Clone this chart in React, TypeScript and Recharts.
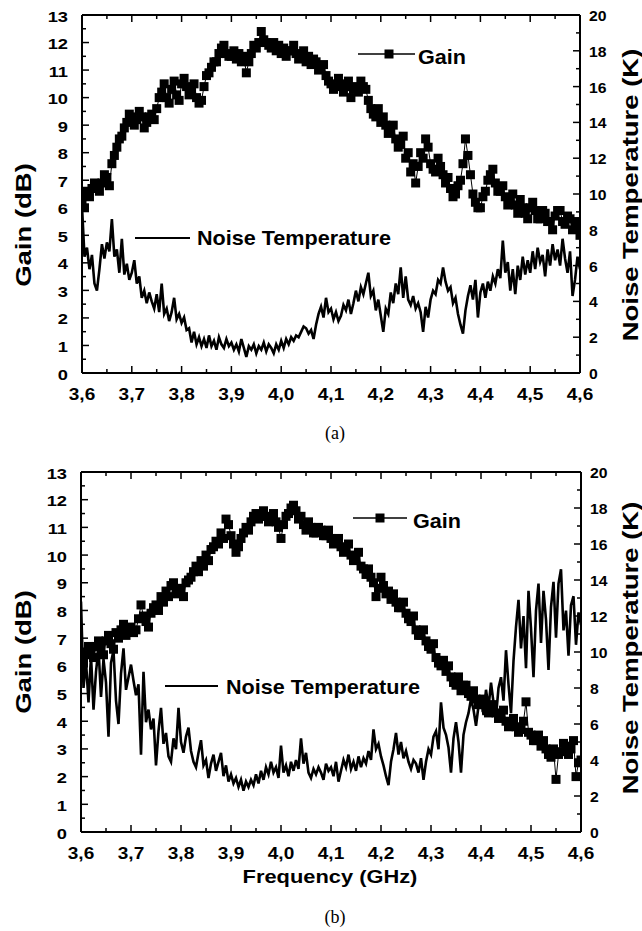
import React from 'react';
import { ComposedChart, Line, XAxis, YAxis, Customized } from 'recharts';

const FONT = '"Liberation Sans", Arial, Helvetica, sans-serif';
const SERIF = '"Liberation Serif", "Times New Roman", serif';

const FREQ_START = 3.6;
const GAIN_STEP = 0.005;
const NOISE_STEP = 0.005;

// Frequency (GHz) tick positions
const FREQ_MAJOR_TICKS = [3.6, 3.7, 3.8, 3.9, 4.0, 4.1, 4.2, 4.3, 4.4, 4.5, 4.6];
const FREQ_MINOR_TICKS = [3.65, 3.75, 3.85, 3.95, 4.05, 4.15, 4.25, 4.35, 4.45, 4.55];
// Gain (dB) ticks
const GAIN_MAJOR_TICKS = [0, 1, 2, 3, 4, 5, 6, 7, 8, 9, 10, 11, 12, 13];
const GAIN_MINOR_TICKS = [0.5, 1.5, 2.5, 3.5, 4.5, 5.5, 6.5, 7.5, 8.5, 9.5, 10.5, 11.5, 12.5];
// Noise temperature (K) ticks
const TEMP_MAJOR_TICKS = [0, 2, 4, 6, 8, 10, 12, 14, 16, 18, 20];
const TEMP_MINOR_TICKS = [1, 3, 5, 7, 9, 11, 13, 15, 17, 19];

// (a) Gain in dB, 3.600 .. 4.600 GHz every 0.005 GHz
const gainA = [
  6.3, 6.0, 6.6, 6.4, 6.7, 6.9, 6.8, 6.6, 6.9, 7.2,
  7.1, 6.8, 7.6, 7.9, 8.2, 8.5, 8.6, 8.9, 9.1, 9.4,
  9.3, 9.0, 9.2, 9.5, 9.3, 8.9, 9.1, 9.3, 9.4, 9.2,
  9.6, 10.0, 10.2, 10.5, 10.0, 9.8, 10.3, 10.6, 10.1, 9.9,
  10.5, 10.7, 10.4, 10.1, 10.2, 10.5, 10.0, 9.8, 9.9, 10.4,
  10.8, 10.9, 11.1, 11.3, 11.3, 11.6, 11.8, 11.9, 11.6, 11.5,
  11.5, 11.7, 11.4, 11.6, 11.3, 11.5, 10.9, 11.3, 11.6, 11.9,
  11.8, 12.0, 12.4, 12.1, 12.0, 11.9, 11.8, 12.0, 11.7, 11.9,
  11.6, 11.8, 11.5, 11.7, 11.7, 11.9, 11.6, 11.4, 11.5, 11.7,
  11.3, 11.5, 11.2, 11.4, 11.3, 11.0, 11.1, 11.2, 10.8, 10.6,
  10.5, 10.3, 10.4, 10.7, 10.5, 10.2, 10.4, 10.6, 10.0, 10.3,
  10.4, 10.2, 10.6, 10.4, 10.3, 9.9, 9.6, 9.4, 9.3, 9.6,
  9.1, 9.3, 9.0, 8.7, 8.8, 9.0, 8.5, 8.2, 8.3, 8.6,
  7.8, 8.0, 7.3, 7.6, 6.9, 7.5, 8.0, 7.8, 8.5, 8.2,
  7.6, 7.4, 7.3, 7.8, 7.5, 7.2, 6.9, 7.1, 6.7, 6.4,
  6.5, 6.8, 7.0, 7.6, 8.5, 7.9, 7.2, 6.5, 6.2, 6.0,
  6.0, 6.4, 6.6, 7.0, 7.2, 7.4, 6.9, 6.6, 6.6, 6.8,
  6.4, 6.1, 6.2, 6.5, 6.1, 5.8, 6.3, 6.0, 5.8, 5.6,
  6.0, 6.2, 5.9, 5.6, 5.6, 5.9, 5.8, 5.5, 5.5, 5.2,
  5.7, 5.9, 5.9, 5.5, 5.4, 5.7, 5.6, 5.2, 5.3, 5.5,
  5.0,
];

// (a) Noise temperature in K, 3.600 .. 4.600 GHz every 0.005 GHz
const noiseA = [
  9.3, 6.5, 7.0, 5.8, 6.6, 5.0, 4.6, 5.8, 7.2, 6.4,
  7.3, 6.8, 8.6, 6.5, 6.9, 5.6, 7.5, 5.5, 6.1, 5.2,
  5.6, 6.3, 5.0, 5.4, 4.2, 4.6, 3.9, 4.5, 4.0, 3.6,
  4.4, 3.4, 5.0, 3.3, 3.6, 2.9, 3.4, 4.2, 3.0, 3.3,
  2.8, 3.1, 2.4, 2.5, 1.7, 2.3, 1.6, 2.0, 1.5, 1.9,
  1.4, 2.1, 1.5, 1.8, 1.3, 2.0, 1.6, 1.4, 1.9, 1.5,
  1.7, 1.3, 1.6, 1.2, 1.9, 1.4, 0.9, 1.5, 1.3, 1.6,
  1.1, 1.5, 1.3, 1.7, 1.2, 1.6, 1.4, 1.1, 1.6, 1.3,
  1.8, 1.4, 1.9, 1.6, 2.0, 1.8, 2.1, 2.0, 2.3, 2.6,
  2.5, 2.2, 2.4, 1.9, 2.7, 3.3, 3.7, 3.1, 4.2, 3.4,
  3.6, 3.0, 3.4, 2.9, 3.2, 3.8, 3.5, 4.1, 3.3, 3.9,
  4.6, 4.0, 4.8, 4.4, 5.0, 5.6, 4.3, 4.6, 3.5, 4.1,
  3.2, 2.3, 3.6, 3.3, 4.5, 3.9, 5.0, 4.4, 5.9, 4.2,
  5.4, 4.1, 3.8, 4.3, 3.6, 3.9, 3.4, 2.3, 3.7, 3.1,
  4.1, 4.6, 4.4, 5.2, 5.0, 5.9, 5.1, 4.6, 4.8, 3.9,
  4.2, 3.3, 2.7, 2.2, 3.5, 4.3, 4.9, 4.1, 5.2, 3.1,
  4.5, 5.0, 4.2, 5.1, 4.6, 5.4, 5.0, 5.8, 5.3, 7.4,
  5.6, 6.2, 4.6, 5.8, 4.4, 6.0, 5.2, 6.5, 5.5, 6.3,
  5.6, 6.8, 5.8, 7.0, 6.2, 6.6, 5.4, 6.9, 6.0, 7.2,
  6.3, 6.9, 6.0, 7.5, 6.4, 5.6, 6.8, 4.3, 5.2, 6.5,
  5.8,
];

// (b) Gain in dB, 3.600 .. 4.600 GHz every 0.005 GHz
const gainB = [
  6.5, 6.1, 6.4, 6.7, 6.5, 6.3, 6.7, 6.9, 6.6, 6.4,
  6.9, 7.1, 6.8, 6.6, 7.2, 7.0, 7.3, 7.5, 7.1, 7.3,
  7.4, 7.2, 7.3, 7.7, 8.2, 7.8, 7.6, 7.4, 7.9, 8.1,
  8.2, 8.0, 8.5, 8.3, 8.7, 8.5, 8.9, 9.0, 8.6, 8.8,
  8.7, 8.5, 9.0, 9.1, 9.2, 9.4, 9.6, 9.4, 9.8, 9.6,
  10.0, 9.8, 10.2, 10.3, 10.5, 10.4, 10.8, 10.6, 11.3, 11.1,
  10.7, 10.4, 10.1, 10.3, 10.6, 10.8, 11.0, 10.9, 11.2, 11.4,
  11.5, 11.3, 11.4, 11.6, 11.4, 11.2, 11.3, 11.5, 11.2, 11.0,
  10.6, 11.1, 11.4, 11.5, 11.7, 11.8, 11.6, 11.3, 11.4, 11.1,
  10.9, 11.2, 11.0, 10.8, 10.8, 11.0, 10.9, 10.7, 10.7, 10.9,
  10.6, 10.4, 10.5, 10.6, 10.3, 10.1, 10.2, 10.4, 10.0, 9.8,
  9.9, 10.1, 9.6, 9.5, 9.3, 9.5, 9.2, 9.0, 8.5, 8.8,
  9.2, 8.9, 8.6, 8.7, 8.4, 8.6, 8.3, 8.1, 8.1, 8.3,
  7.9, 7.7, 7.6, 7.8, 7.3, 7.1, 7.1, 7.3, 6.9, 6.7,
  6.6, 6.8, 6.3, 6.1, 6.0, 6.2, 5.8, 6.0, 5.6, 5.4,
  5.3, 5.6, 5.1, 5.3, 5.3, 5.0, 4.9, 5.1, 4.8, 4.6,
  4.6, 4.8, 4.5, 4.3, 4.4, 4.6, 4.3, 4.1, 4.2, 4.4,
  4.0, 3.8, 3.9, 4.1, 3.8, 3.6, 3.7, 4.0, 4.7, 3.6,
  3.5, 3.3, 3.3, 3.5, 3.1, 3.3, 3.0, 2.8, 2.7, 3.0,
  1.9, 2.8, 2.9, 3.2, 3.1, 2.8, 3.0, 3.3, 2.0, 2.5,
  2.6,
];

// (b) Noise temperature in K, 3.600 .. 4.600 GHz every 0.005 GHz
const noiseB = [
  12.8, 8.0, 9.5, 7.2, 9.8, 6.8, 8.9, 10.2, 7.5, 9.6,
  8.3, 5.3, 9.4, 10.1, 7.3, 6.0, 8.8, 10.2, 7.9, 8.6,
  9.3, 8.4, 7.6, 8.2, 4.3, 8.9, 6.1, 6.8, 5.7, 6.3,
  3.7, 5.6, 6.9, 4.9, 5.5, 4.2, 3.9, 5.2, 4.6, 6.9,
  5.0, 4.4, 5.3, 5.8, 4.5, 3.9, 3.6, 4.4, 5.1, 3.7,
  4.0, 3.0, 3.8, 4.3, 3.4, 3.9, 4.4, 3.1, 3.7, 2.8,
  3.2, 2.7, 3.0, 2.5, 2.9, 2.3, 2.8, 2.5, 2.9, 2.6,
  3.2, 2.7, 3.4, 2.9, 3.6, 3.2, 3.9, 3.3, 3.6, 3.0,
  4.8, 3.3, 3.7, 3.1, 3.9, 3.4, 4.0, 3.5, 5.2, 3.8,
  4.4, 3.3, 3.0, 3.5, 3.2, 3.6, 3.3, 2.9, 3.8, 3.4,
  3.6, 3.1, 3.9, 2.8, 3.4, 4.0, 3.6, 4.3, 3.5, 3.9,
  3.4, 4.2, 3.6, 4.1, 3.8, 4.5, 4.0, 5.7, 4.6, 4.9,
  4.2, 3.7, 3.1, 2.6, 3.9, 4.6, 5.5, 4.3, 5.0, 4.1,
  4.5, 3.9, 3.5, 4.0, 3.8, 3.3, 4.1, 2.9, 3.9, 4.6,
  4.3, 5.3, 5.6, 4.6, 7.2, 5.8, 5.4, 4.7, 3.3, 5.2,
  6.1, 5.0, 3.3, 5.4, 6.1, 6.6, 7.4, 6.8, 5.9, 7.0,
  7.6, 6.5, 7.9, 6.9, 8.3, 7.2, 6.4, 8.0, 8.6, 7.3,
  10.1, 8.2, 6.6, 9.5, 11.4, 12.9, 10.2, 12.0, 9.1, 13.4,
  11.3, 8.6, 12.3, 13.8, 10.5, 13.4, 11.8, 9.0, 12.5, 13.9,
  10.8, 13.8, 14.6, 11.2, 12.3, 9.8, 12.6, 13.1, 10.4, 12.2,
  11.5,
];

const buildSeries = (values: number[], step: number, key: string) =>
  values.map((v, i) => ({ freq: Math.round((FREQ_START + i * step) * 1000) / 1000, [key]: v }));

const gainSeriesA = buildSeries(gainA, GAIN_STEP, 'gain');
const noiseSeriesA = buildSeries(noiseA, NOISE_STEP, 'noise');
const gainSeriesB = buildSeries(gainB, GAIN_STEP, 'gain');
const noiseSeriesB = buildSeries(noiseB, NOISE_STEP, 'noise');

const sortNum = (a: number[], b: number[]) => [...a, ...b].sort((p, q) => p - q);
const FREQ_TICKS = sortNum(FREQ_MAJOR_TICKS, FREQ_MINOR_TICKS);
const GAIN_TICKS = sortNum(GAIN_MAJOR_TICKS, GAIN_MINOR_TICKS);
const TEMP_TICKS = sortNum(TEMP_MAJOR_TICKS, TEMP_MINOR_TICKS);

const isIn = (arr: number[], v: number) => arr.some((a) => Math.abs(a - v) < 1e-6);

const TICK_W = 1.5;
const MAJOR_LEN = 7;
const MINOR_LEN = 4;

const BottomTick = (props: any) => {
  const { x, y, payload } = props;
  const v = payload.value as number;
  const major = isIn(FREQ_MAJOR_TICKS, v);
  return (
    <g>
      <line x1={x} x2={x} y1={y} y2={y - (major ? MAJOR_LEN : MINOR_LEN)} stroke="#000" strokeWidth={TICK_W} />
      {major && (
        <text
          transform={`translate(${x},${y + 27}) scale(1.12,1)`}
          textAnchor="middle"
          fontFamily={FONT}
          fontWeight="bold"
          fontSize={17}
          fill="#000"
        >
          {v.toFixed(1).replace('.', ',')}
        </text>
      )}
    </g>
  );
};

const TopTick = (props: any) => {
  const { x, y, payload } = props;
  const v = payload.value as number;
  const major = isIn(FREQ_MAJOR_TICKS, v);
  return <line x1={x} x2={x} y1={y} y2={y + (major ? MAJOR_LEN : MINOR_LEN)} stroke="#000" strokeWidth={TICK_W} />;
};

const LeftTick = (props: any) => {
  const { x, y, payload } = props;
  const v = payload.value as number;
  const major = isIn(GAIN_MAJOR_TICKS, v);
  return (
    <g>
      <line x1={x} x2={x + (major ? MAJOR_LEN : MINOR_LEN)} y1={y} y2={y} stroke="#000" strokeWidth={TICK_W} />
      {major && (
        <text
          transform={`translate(${x - 14},${y + 6.5}) scale(1.22,1)`}
          textAnchor="end"
          fontFamily={FONT}
          fontWeight="bold"
          fontSize={15}
          fill="#000"
        >
          {String(v)}
        </text>
      )}
    </g>
  );
};

const RightTick = (props: any) => {
  const { x, y, payload } = props;
  const v = payload.value as number;
  const major = isIn(TEMP_MAJOR_TICKS, v);
  return (
    <g>
      <line x1={x} x2={x - (major ? MAJOR_LEN : MINOR_LEN)} y1={y} y2={y} stroke="#000" strokeWidth={TICK_W} />
      {major && (
        <text
          transform={`translate(${x + 9},${y + 6}) scale(1.05,1)`}
          textAnchor="start"
          fontFamily={FONT}
          fontWeight="bold"
          fontSize={15}
          fill="#000"
        >
          {String(v)}
        </text>
      )}
    </g>
  );
};

const renderSquare = (p: any) => {
  if (p.cx == null || p.cy == null) return <g key={`e-${p.index}`} />;
  return <rect key={`sq-${p.index}`} x={p.cx - 4.5} y={p.cy - 4.5} width={9} height={9} fill="#000" />;
};

type Deco = {
  leftTitleY: number;
  rightTitleY: number;
  gainLeg: { x1: number; x2: number; y: number; sq: number; tx: number; ty: number };
  noiseLeg: { x1: number; x2: number; y: number; tx: number; ty: number };
  caption: string;
  captionY: number;
  xTitleY?: number;
};

const Decorations = ({ d }: { d: Deco }) => (
  <g>
    <text
      transform={`translate(31,${d.leftTitleY}) rotate(-90) scale(1.25,1)`}
      textAnchor="middle"
      fontFamily={FONT}
      fontWeight="bold"
      fontSize={22}
      fill="#000"
    >
      Gain (dB)
    </text>
    <text
      transform={`translate(638,${d.rightTitleY}) rotate(-90) scale(1.25,1)`}
      textAnchor="middle"
      fontFamily={FONT}
      fontWeight="bold"
      fontSize={22}
      fill="#000"
    >
      Noise Temperature (K)
    </text>
    <line x1={d.gainLeg.x1} x2={d.gainLeg.x2} y1={d.gainLeg.y} y2={d.gainLeg.y} stroke="#000" strokeWidth={1.6} />
    <rect x={d.gainLeg.sq - 4.5} y={d.gainLeg.y - 4.5} width={9} height={9} fill="#000" />
    <text
      transform={`translate(${d.gainLeg.tx},${d.gainLeg.ty}) scale(1.08,1)`}
      fontFamily={FONT}
      fontWeight="bold"
      fontSize={20}
      fill="#000"
    >
      Gain
    </text>
    <line x1={d.noiseLeg.x1} x2={d.noiseLeg.x2} y1={d.noiseLeg.y} y2={d.noiseLeg.y} stroke="#000" strokeWidth={2} />
    <text
      transform={`translate(${d.noiseLeg.tx},${d.noiseLeg.ty}) scale(1.08,1)`}
      fontFamily={FONT}
      fontWeight="bold"
      fontSize={20}
      fill="#000"
    >
      Noise Temperature
    </text>
    {d.xTitleY != null && (
      <text
        transform={`translate(330,${d.xTitleY}) scale(1.15,1)`}
        textAnchor="middle"
        fontFamily={FONT}
        fontWeight="bold"
        fontSize={19}
        fill="#000"
      >
        Frequency (GHz)
      </text>
    )}
    <text x={335} y={d.captionY} textAnchor="middle" fontFamily={SERIF} fontSize={18} fill="#000">
      {d.caption}
    </text>
  </g>
);

const AXIS_LINE = { stroke: '#000', strokeWidth: 2 };

type PanelProps = {
  height: number;
  margin: { top: number; right: number; bottom: number; left: number };
  leftW: number;
  rightW: number;
  gainData: any[];
  noiseData: any[];
  deco: Deco;
};

const Panel = ({ height, margin, leftW, rightW, gainData, noiseData, deco }: PanelProps) => (
  <ComposedChart width={642} height={height} margin={margin}>
    <XAxis
      xAxisId="b"
      dataKey="freq"
      type="number"
      domain={[3.6, 4.6]}
      allowDataOverflow
      ticks={FREQ_TICKS}
      interval={0}
      tickSize={0}
      tickMargin={0}
      tickLine={false}
      tick={<BottomTick />}
      axisLine={AXIS_LINE}
      height={30}
    />
    <XAxis
      xAxisId="t"
      orientation="top"
      dataKey="freq"
      type="number"
      domain={[3.6, 4.6]}
      allowDataOverflow
      ticks={FREQ_TICKS}
      interval={0}
      tickSize={0}
      tickMargin={0}
      tickLine={false}
      tick={<TopTick />}
      axisLine={AXIS_LINE}
      height={1}
    />
    <YAxis
      yAxisId="g"
      type="number"
      domain={[0, 13]}
      allowDataOverflow
      ticks={GAIN_TICKS}
      interval={0}
      tickSize={0}
      tickMargin={0}
      tickLine={false}
      tick={<LeftTick />}
      axisLine={AXIS_LINE}
      width={leftW}
    />
    <YAxis
      yAxisId="k"
      orientation="right"
      type="number"
      domain={[0, 20]}
      allowDataOverflow
      ticks={TEMP_TICKS}
      interval={0}
      tickSize={0}
      tickMargin={0}
      tickLine={false}
      tick={<RightTick />}
      axisLine={AXIS_LINE}
      width={rightW}
    />
    <Line
      xAxisId="b"
      yAxisId="k"
      data={noiseData}
      dataKey="noise"
      type="linear"
      stroke="#000"
      strokeWidth={2.6}
      dot={false}
      activeDot={false}
      isAnimationActive={false}
    />
    <Line
      xAxisId="b"
      yAxisId="g"
      data={gainData}
      dataKey="gain"
      type="linear"
      stroke="#000"
      strokeWidth={1}
      dot={renderSquare}
      activeDot={false}
      isAnimationActive={false}
    />
    <Customized component={<Decorations d={deco} />} />
  </ComposedChart>
);

export default function App() {
  return (
    <div style={{ position: 'absolute', left: 0, top: 0, width: 642, height: 931, background: '#fff' }}>
      <div style={{ position: 'absolute', left: 0, top: 0 }}>
        <Panel
          height={445}
          margin={{ top: 14, right: 0, bottom: 42, left: 0 }}
          leftW={82}
          rightW={62}
          gainData={gainSeriesA}
          noiseData={noiseSeriesA}
          deco={{
            leftTitleY: 225,
            rightTitleY: 195,
            gainLeg: { x1: 358, x2: 415, y: 54, sq: 389, tx: 418, ty: 64 },
            noiseLeg: { x1: 135, x2: 190, y: 238, tx: 197, ty: 245 },
            caption: '(a)',
            captionY: 439,
          }}
        />
      </div>
      <div style={{ position: 'absolute', left: 0, top: 450 }}>
        <Panel
          height={481}
          margin={{ top: 21, right: 0, bottom: 69, left: 0 }}
          leftW={81}
          rightW={61}
          gainData={gainSeriesB}
          noiseData={noiseSeriesB}
          deco={{
            leftTitleY: 202,
            rightTitleY: 198,
            gainLeg: { x1: 353, x2: 407, y: 68, sq: 380, tx: 413, ty: 78 },
            noiseLeg: { x1: 165, x2: 218, y: 236, tx: 226, ty: 244 },
            caption: '(b)',
            captionY: 473,
            xTitleY: 433,
          }}
        />
      </div>
    </div>
  );
}
